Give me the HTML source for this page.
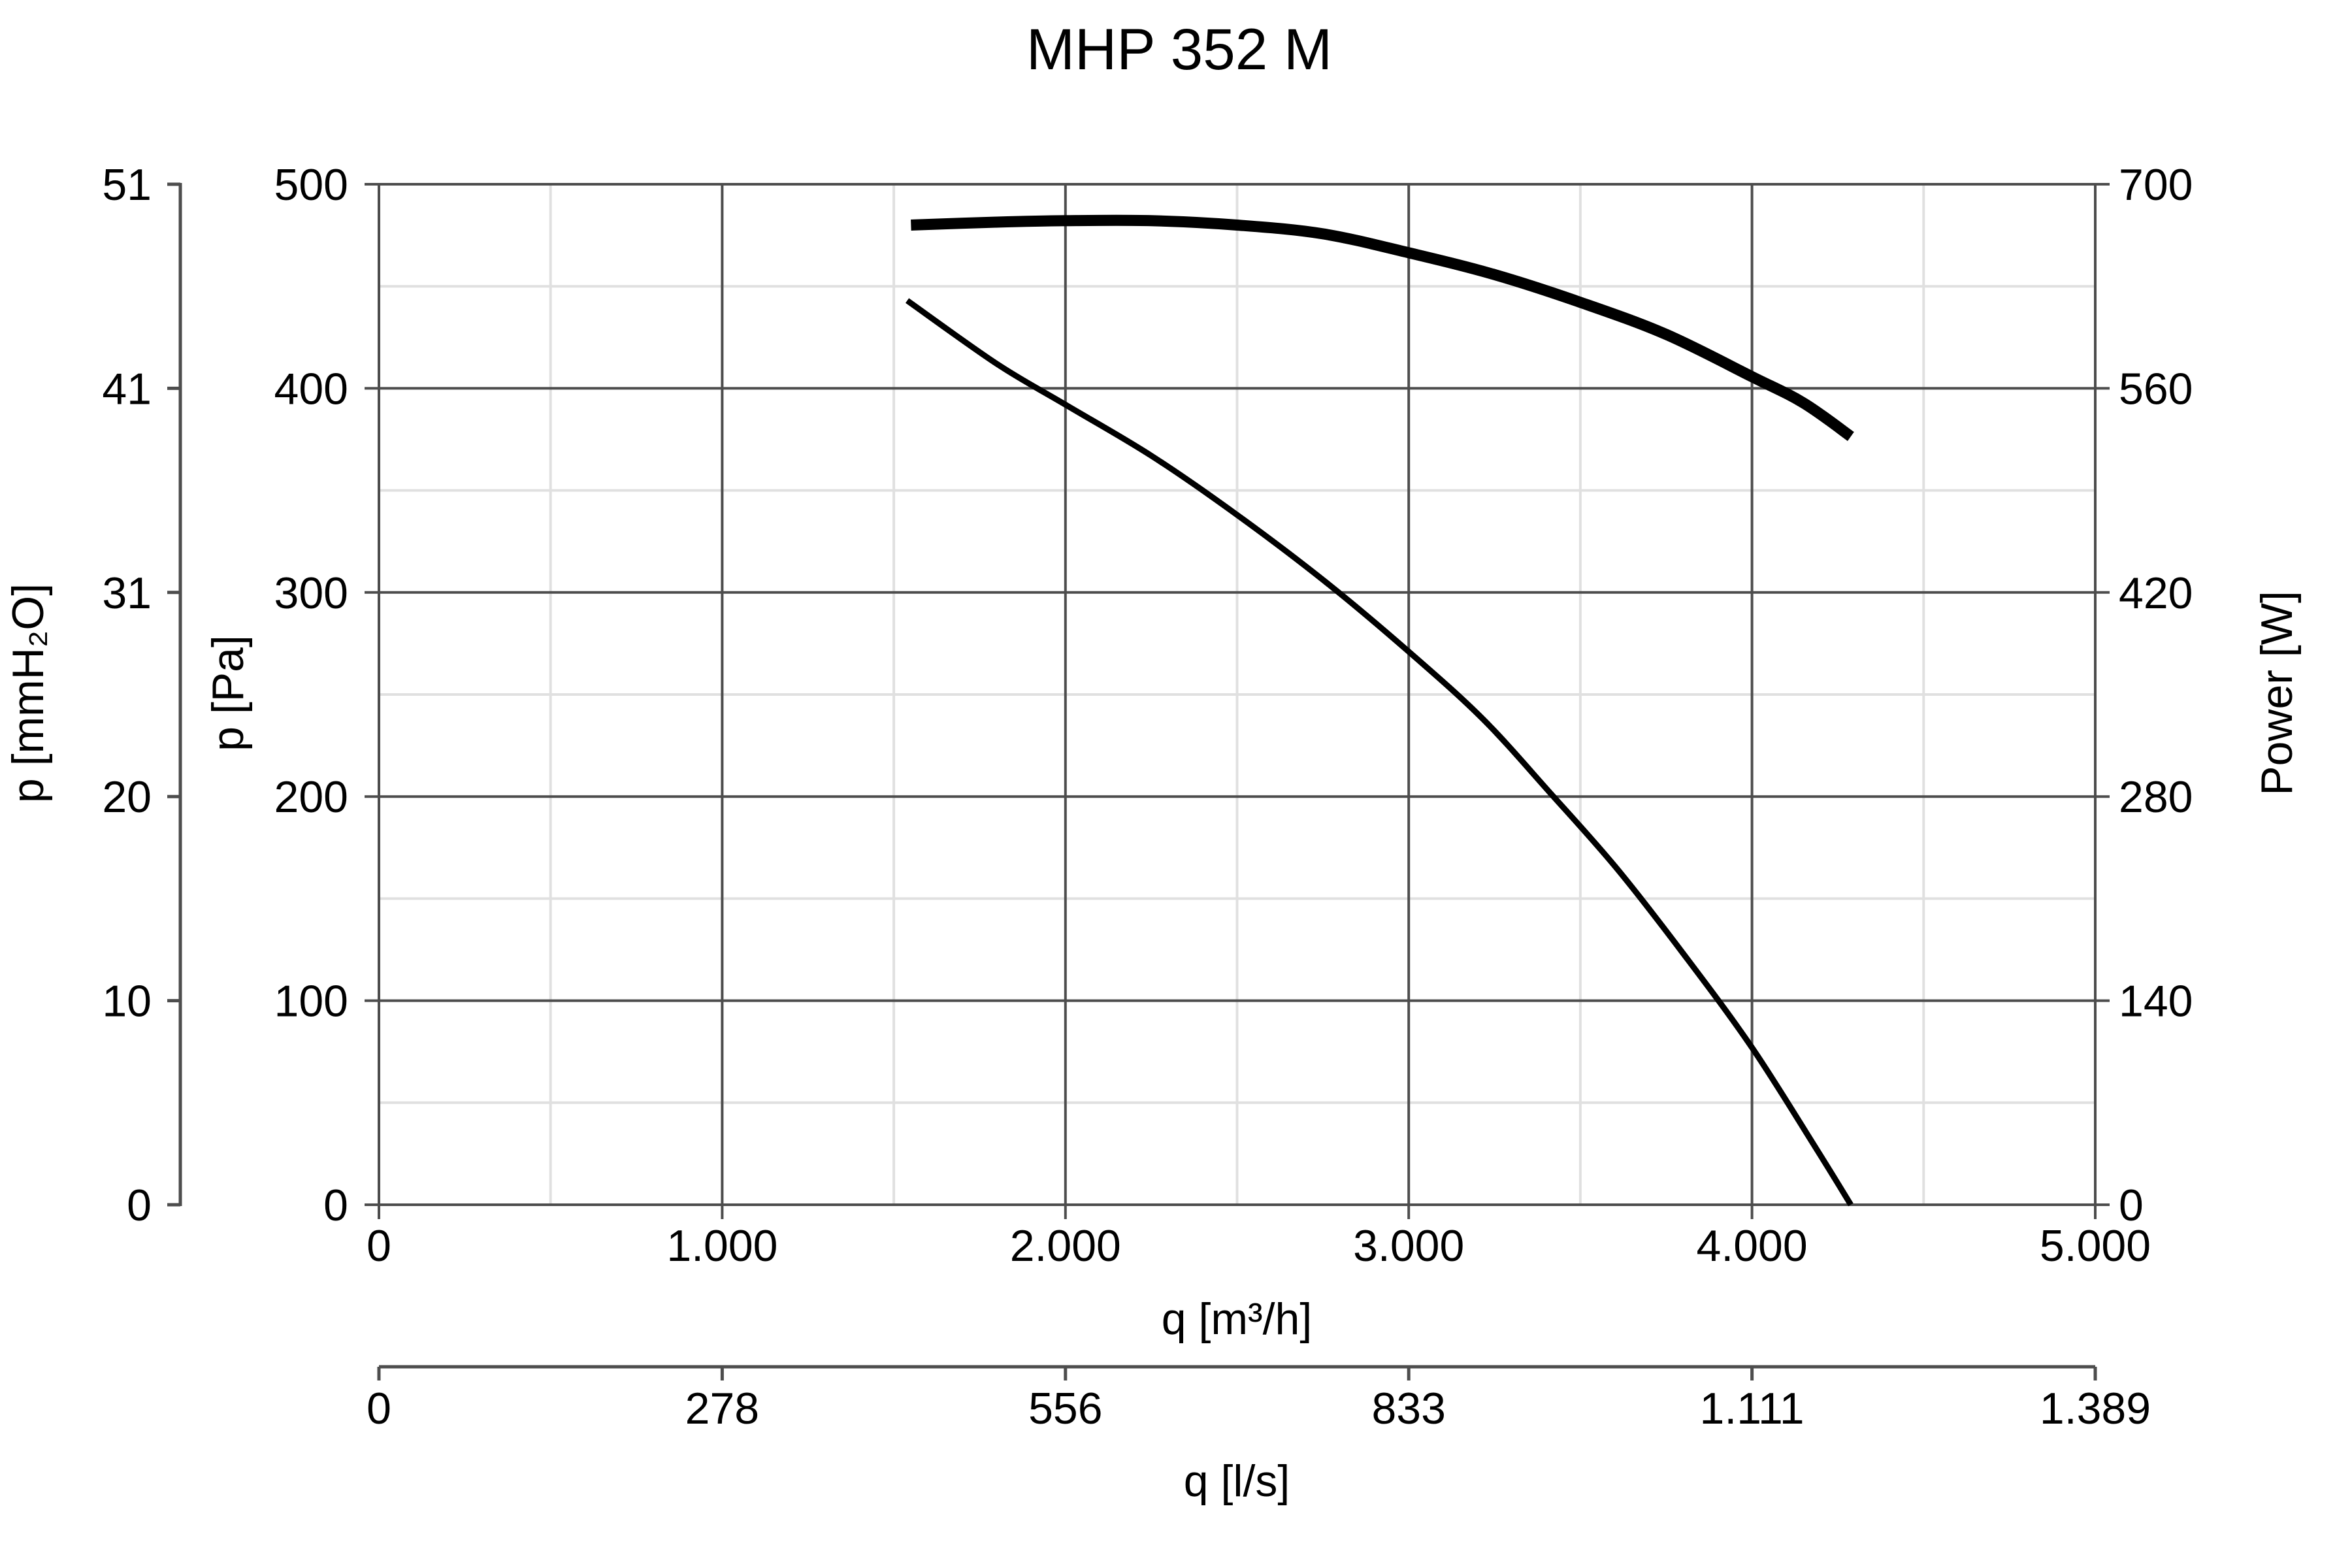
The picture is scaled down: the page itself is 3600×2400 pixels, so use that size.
<!DOCTYPE html>
<html><head><meta charset="utf-8"><style>
html,body{margin:0;padding:0;background:#fff}
svg{display:block;font-family:"Liberation Sans",Arial,sans-serif}
</style></head><body>
<svg id="chart" width="3600" height="2400" viewBox="0 0 3600 2400" xmlns="http://www.w3.org/2000/svg">
<text x="1805" y="106" font-size="89" text-anchor="middle">MHP 352 M</text>
<g id="grid"></g>
<g id="axes"></g>
<g id="series"></g>
<text transform="translate(66,1061) rotate(-90)" font-size="68" text-anchor="middle">p [mmH₂O]</text>
<text transform="translate(372,1061) rotate(-90)" font-size="68" text-anchor="middle">p [Pa]</text>
<text transform="translate(3508,1061) rotate(-90)" font-size="68" text-anchor="middle">Power [W]</text>
<text x="1893" y="2042" font-size="68" text-anchor="middle">q [m³/h]</text>
<text x="1893" y="2290" font-size="68" text-anchor="middle">q [l/s]</text>
</svg>
<script>
const xTicks = [0, 1000, 2000, 3000, 4000, 5000];
const xTickLabels = ["0", "1.000", "2.000", "3.000", "4.000", "5.000"];
const lsTickLabels = ["0", "278", "556", "833", "1.111", "1.389"];
const paTicks = [0, 100, 200, 300, 400, 500];
const mmTickLabels = ["0", "10", "20", "31", "41", "51"];
const powerTicks = [0, 140, 280, 420, 560, 700];
const pressureQ = [1539, 1800, 2000, 2250, 2500, 2759, 3000, 3216, 3411, 3605, 3800, 4000, 4189, 4288];
const pressureP = [443, 412, 392, 367, 338, 305, 271, 238, 202, 165, 123, 77, 27, 0];
const powerQ = [1550, 1800, 2000, 2250, 2500, 2750, 3000, 3250, 3500, 3750, 4000, 4150, 4288];
const powerW = [672, 674, 675, 675, 672, 666, 653, 638, 619, 597, 568, 550, 527];

const L = 580, R = 3207, T = 282, B = 1844;
const NS = "http://www.w3.org/2000/svg";
const xS = q => L + (q / 5000) * (R - L);
const yP = p => B - (p / 500) * (B - T);
const yW = w => B - (w / 700) * (B - T);
function mk(tag, attrs, parent) {
  const e = document.createElementNS(NS, tag);
  for (const k in attrs) e.setAttribute(k, attrs[k]);
  parent.appendChild(e);
  return e;
}
function smooth(pts) {
  let d = 'M' + pts[0][0] + ',' + pts[0][1];
  for (let i = 0; i < pts.length - 1; i++) {
    const p0 = pts[Math.max(0, i - 1)], p1 = pts[i], p2 = pts[i + 1], p3 = pts[Math.min(pts.length - 1, i + 2)];
    const c1x = p1[0] + (p2[0] - p0[0]) / 6, c1y = p1[1] + (p2[1] - p0[1]) / 6;
    const c2x = p2[0] - (p3[0] - p1[0]) / 6, c2y = p2[1] - (p3[1] - p1[1]) / 6;
    d += ' C' + c1x + ',' + c1y + ' ' + c2x + ',' + c2y + ' ' + p2[0] + ',' + p2[1];
  }
  return d;
}
const grid = document.getElementById('grid');
const axes = document.getElementById('axes');
const series = document.getElementById('series');
for (let i = 0; i < xTicks.length - 1; i++) {
  const x = xS((xTicks[i] + xTicks[i + 1]) / 2);
  const l = mk('line', {x1: x, x2: x, y1: T, y2: B, stroke: '#e0e0e0', 'stroke-width': 4}, grid);
  
  
}
for (let i = 0; i < paTicks.length - 1; i++) {
  const y = yP((paTicks[i] + paTicks[i + 1]) / 2);
  const l = mk('line', {x1: L, x2: R, y1: y, y2: y, stroke: '#e0e0e0', 'stroke-width': 4}, grid);
  
  
}
xTicks.forEach((v, i) => {
  const x = xS(v);
  const l = mk('line', {x1: x, x2: x, y1: T, y2: B + 22, stroke: '#4d4d4d', 'stroke-width': 4}, grid);
  
  
  const t = mk('text', {x: x, y: 1930, 'font-size': 68, 'text-anchor': 'middle'}, axes);
  t.textContent = xTickLabels[i];
  
  
  const tk = mk('line', {x1: x, x2: x, y1: 2092, y2: 2113, stroke: '#4d4d4d', 'stroke-width': 5}, axes);
  
  
  const t2 = mk('text', {x: x, y: 2179, 'font-size': 68, 'text-anchor': 'middle'}, axes);
  t2.textContent = lsTickLabels[i];
  
  
});
paTicks.forEach((v, i) => {
  const y = yP(v);
  const l = mk('line', {x1: L - 22, x2: R + 22, y1: y, y2: y, stroke: '#4d4d4d', 'stroke-width': 4}, grid);
  
  
  const t = mk('text', {x: 533, y: y + 24, 'font-size': 68, 'text-anchor': 'end'}, axes);
  t.textContent = String(v);
  
  
  const tk = mk('line', {x1: 256, x2: 276, y1: y, y2: y, stroke: '#4d4d4d', 'stroke-width': 5}, axes);
  
  
  const t2 = mk('text', {x: 232, y: y + 24, 'font-size': 68, 'text-anchor': 'end'}, axes);
  t2.textContent = mmTickLabels[i];
  
  
});
powerTicks.forEach(v => {
  const y = yW(v);
  const t = mk('text', {x: 3243, y: y + 24, 'font-size': 68, 'text-anchor': 'start'}, axes);
  t.textContent = String(v);
  
  
});
const a1 = mk('line', {x1: 276, x2: 276, y1: T - 2, y2: B + 2, stroke: '#4d4d4d', 'stroke-width': 5}, axes);


const a2 = mk('line', {x1: L, x2: R, y1: 2092, y2: 2092, stroke: '#4d4d4d', 'stroke-width': 5}, axes);


const pp = mk('path', {d: smooth(pressureQ.map((q, i) => [xS(q), yP(pressureP[i])])), fill: 'none', stroke: '#000', 'stroke-width': 9, 'stroke-linejoin': 'round'}, series);


const pw = mk('path', {d: smooth(powerQ.map((q, i) => [xS(q), yW(powerW[i])])), fill: 'none', stroke: '#000', 'stroke-width': 17, 'stroke-linejoin': 'round'}, series);


</script>
</body></html>
